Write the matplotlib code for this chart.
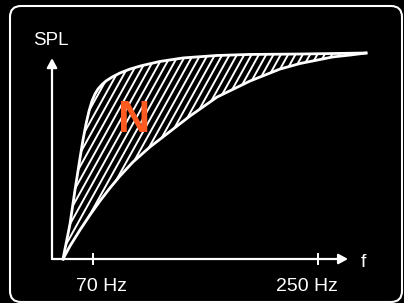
import matplotlib
matplotlib.use("Agg")
import matplotlib.pyplot as plt
import numpy as np
from matplotlib.patches import Polygon, FancyBboxPatch
from matplotlib.transforms import IdentityTransform

# curves (f in Hz, SPL normalised to the plateau)
f_upper = [46, 51.6, 55.6, 59.6, 62, 64.4, 66.8, 69.2, 71.6, 74, 77.2, 80.4,
           85.2, 91.6, 99.6, 109.2, 123.6, 142, 169.2, 195.6, 235.6, 288.4]
spl_upper = [0, 0.170, 0.335, 0.490, 0.578, 0.655, 0.718, 0.767, 0.801, 0.825,
             0.847, 0.864, 0.883, 0.903, 0.922, 0.939, 0.959, 0.976, 0.988,
             0.993, 0.995, 1.0]

f_lower = [46, 51.6, 59.6, 67.6, 75.6, 83.6, 91.6, 102, 115.6, 131.6, 147.6,
           169.2, 195.6, 219.6, 235.6, 262, 275.6, 288.4]
spl_lower = [0, 0.063, 0.141, 0.214, 0.282, 0.345, 0.403, 0.471, 0.544, 0.619,
             0.694, 0.786, 0.864, 0.922, 0.949, 0.981, 0.990, 1.0]

tick_freqs = [70, 250]
tick_labels = ["70 Hz", "250 Hz"]

W, H = 404, 303
fig = plt.figure(figsize=(W / 100, H / 100), dpi=100, facecolor="black")
ax = fig.add_axes([0, 0, 1, 1])
ax.set_facecolor("black")
ax.set_xlim(-4.4, 318.8)
ax.set_ylim(-0.2136, 1.2573)
ax.axis("off")

# rounded frame
frame = FancyBboxPatch((10, 1), 392, 296, boxstyle="round,pad=0,rounding_size=11",
                       transform=IdentityTransform(), fill=False,
                       edgecolor="white", linewidth=1.5)
fig.patches.append(frame)

# region between the curves
xs = f_upper + f_lower[::-1]
ys = spl_upper + spl_lower[::-1]
region = Polygon(np.column_stack([xs, ys]), closed=True, facecolor="none",
                 edgecolor="none")
ax.add_patch(region)

# slanted hatch, drawn in pixel space and clipped to the region
ang = np.deg2rad(61)
dx = H / np.tan(ang)
for x0 in np.arange(-200, W + 10, 7.3):
    ln, = ax.plot([x0, x0 + dx], [0, H], color="white", lw=1.4,
                  transform=IdentityTransform(), solid_capstyle="butt")
    ln.set_clip_path(region)

ax.plot(f_upper, spl_upper, color="white", lw=2.0, solid_joinstyle="round")
ax.plot(f_lower, spl_lower, color="white", lw=2.0, solid_joinstyle="round")

# axes with arrows
x0, y0 = 37.2, 0
arrow = dict(arrowstyle="-|>,head_length=0.55,head_width=0.3", color="white",
             lw=1.6, shrinkA=0, shrinkB=0)
ax.annotate("", xy=(x0, 0.975), xytext=(x0, y0), arrowprops=arrow)
ax.annotate("", xy=(274, y0), xytext=(x0, y0), arrowprops=arrow)

for fq in tick_freqs:
    ax.plot([fq, fq], [-0.024, 0.024], color="white", lw=1.4)

fnt = "Liberation Sans"
ax.text(76.5, -0.154, tick_labels[0], color="white", fontsize=14, family=fnt,
        ha="center", va="baseline")
ax.text(240.8, -0.154, tick_labels[1], color="white", fontsize=14, family=fnt,
        ha="center", va="baseline")
ax.text(286, -0.037, "f", color="white", fontsize=14, family=fnt,
        ha="center", va="baseline")
ax.text(36.4, 1.039, "SPL", color="white", fontsize=13.5, family=fnt,
        ha="center", va="baseline")
ax.text(103.2, 0.6165, "N", color="#FF5A1F", fontsize=32, family=fnt,
        fontweight="bold", ha="center", va="baseline")

fig.savefig("out.png", dpi=100, facecolor="black")
